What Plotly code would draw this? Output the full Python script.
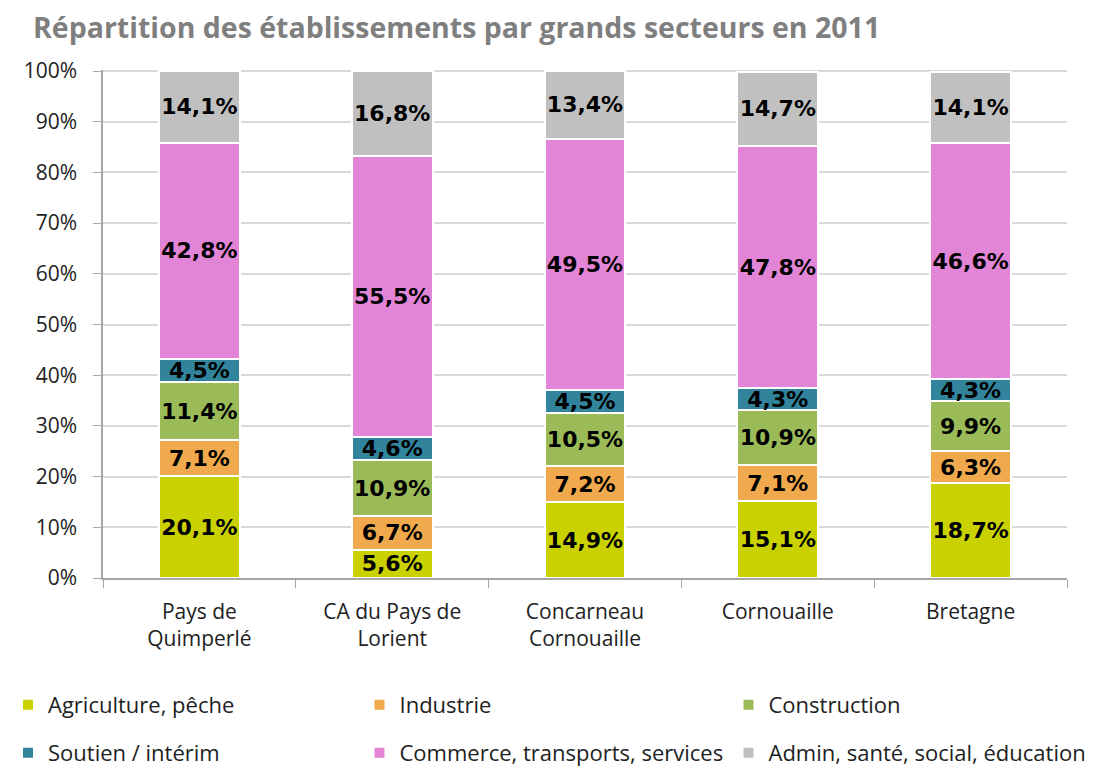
import plotly.graph_objects as go

categories = ["Pays de<br>Quimperlé", "CA du Pays de<br>Lorient", "Concarneau<br>Cornouaille", "Cornouaille", "Bretagne"]

agriculture = [20.1, 5.6, 14.9, 15.1, 18.7]
industrie = [7.1, 6.7, 7.2, 7.1, 6.3]
construction = [11.4, 10.9, 10.5, 10.9, 9.9]
soutien = [4.5, 4.6, 4.5, 4.3, 4.3]
commerce = [42.8, 55.5, 49.5, 47.8, 46.6]
admin = [14.1, 16.8, 13.4, 14.7, 14.1]

series_names = ["Agriculture, pêche", "Industrie", "Construction",
                "Soutien / intérim", "Commerce, transports, services",
                "Admin, santé, social, éducation"]
series_values = [agriculture, industrie, construction, soutien, commerce, admin]
series_colors = ["#c9d200", "#f0a94c", "#9bbb59", "#31849b", "#e385d6", "#c0c0c0"]

FONT = "Open Sans"
W, H = 1091, 759  # page body has an 8px margin inside the 1099x767 window

fig = go.Figure()
legend_ids = ["legend", "legend2", "legend3", "legend4", "legend5", "legend6"]
for name, vals, color, leg in zip(series_names, series_values, series_colors, legend_ids):
    fig.add_trace(go.Bar(
        name=name,
        x=categories,
        y=vals,
        marker=dict(color=color, line=dict(color="white", width=2)),
        texttemplate="%{y:.1f}%",
        textposition="inside",
        insidetextanchor="middle",
        textangle=0,
        textfont=dict(family="DejaVu Sans", size=22, color="black", weight="bold"),
        legend=leg,
        showlegend=True,
        cliponaxis=False,
    ))

legend_common = dict(
    orientation="h",
    xref="container", yref="container",
    xanchor="left", yanchor="middle",
    font=dict(family=FONT, size=22, color="#222222"),
    itemwidth=30,
    bgcolor="rgba(0,0,0,0)",
)
col_x = [-21.5, 351.5, 720.5]
row_y = [697, 745]
legends = {}
for i, lid in enumerate(legend_ids):
    r, c = divmod(i, 3)
    legends[lid] = dict(x=col_x[c] / W, y=(H - row_y[r]) / H, **legend_common)

fig.update_layout(
    width=W, height=H,
    margin=dict(l=95, r=32, t=62, b=189),
    paper_bgcolor="white", plot_bgcolor="white",
    showlegend=True,
    barmode="stack",
    bargap=0.58,
    separators=", ",
    uniformtext=dict(minsize=22, mode="show"),
    title=dict(
        text="<b>Répartition des établissements par grands secteurs en 2011</b>",
        x=25 / W, xanchor="left", xref="container",
        y=1 - 20 / H, yanchor="middle", yref="container",
        font=dict(family=FONT, size=28.5, color="#7f7f7f"),
    ),
    **legends,
    xaxis=dict(
        showline=True, linecolor="#a6a6a6", linewidth=1.5,
        ticks="outside", tickson="boundaries", ticklen=8, tickcolor="#a6a6a6",
        tickfont=dict(family=FONT, size=21, color="#222222"),
        ticklabelstandoff=14,
        showgrid=False,
    ),
    yaxis=dict(
        range=[0, 100.2], tick0=0, dtick=10,
        ticksuffix="%",
        showline=True, linecolor="#a6a6a6", linewidth=1.5,
        ticks="outside", ticklen=8, tickcolor="#a6a6a6",
        ticklabelstandoff=12,
        showgrid=True, gridcolor="#d9d9d9", gridwidth=1.5,
        tickfont=dict(family=FONT, size=21, color="#222222"),
        zeroline=False,
    ),
)

fig.write_html("out.html")
